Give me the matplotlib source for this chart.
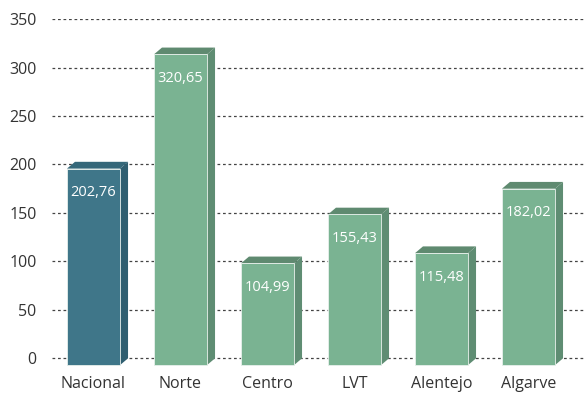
import numpy as np
import matplotlib
matplotlib.use('Agg')
import matplotlib.pyplot as plt
from matplotlib.patches import Polygon, Rectangle

plt.rcParams['font.family'] = ['Open Sans', 'DejaVu Sans']

# Dados
regioes = ['Nacional', 'Norte', 'Centro', 'LVT', 'Alentejo', 'Algarve']
valores = [202.76, 320.65, 104.99, 155.43, 115.48, 182.02]
rotulos = ['202,76', '320,65', '104,99', '155,43', '115,48', '182,02']
yticks = [0, 50, 100, 150, 200, 250, 300, 350]

# Cores (frente, lateral, topo)
cor_nac = ('#3f7689', '#2f5e70', '#35687a')
cor_reg = ('#7ab392', '#5f8d73', '#5f8a70')

fig = plt.figure(figsize=(5.86, 3.96), dpi=100)
ax = fig.add_axes([52 / 586, 0.0707, 534 / 586, 0.881])

largura = 0.61   # largura da face frontal
dx = 0.092       # profundidade em x
dy = 7.0         # profundidade em y

for i, (v, lab) in enumerate(zip(valores, rotulos)):
    frente, lado, topo = cor_nac if i == 0 else cor_reg
    xl = i - largura / 2
    xr = xl + largura
    # face lateral
    ax.add_patch(Polygon([(xr, -dy), (xr + dx, 0), (xr + dx, v), (xr, v - dy)],
                         closed=True, facecolor=lado, edgecolor='none', zorder=3))
    # topo
    ax.add_patch(Polygon([(xl, v - dy), (xr, v - dy), (xr + dx, v), (xl + dx, v)],
                         closed=True, facecolor=topo, edgecolor='none', zorder=3))
    # face frontal
    ax.add_patch(Rectangle((xl, -dy), largura, v, facecolor=frente,
                           edgecolor='#e8f0ec', linewidth=0.6, zorder=4))
    ax.text(i, v - dy - 25, lab, ha='center', va='center', color='white',
            fontsize=10.5, zorder=5)

ax.set_xlim(-0.477, 5.661)
ax.set_ylim(-10, 350)
ax.set_yticks(yticks)
ax.set_yticklabels([str(t) for t in yticks], fontsize=11.5, color='#333333')
ax.tick_params(axis='y', length=0, pad=11)
ax.set_xticks(range(len(regioes)))
ax.set_xticklabels(regioes, fontsize=11.5, color='#333333')
ax.tick_params(axis='x', length=0, pad=6)

for t in yticks:
    ax.axhline(t, color='#444444', linewidth=0.9, linestyle=(0, (2.2, 2.2)), zorder=1)

for s in ax.spines.values():
    s.set_visible(False)

fig.savefig('out.png', dpi=100)
